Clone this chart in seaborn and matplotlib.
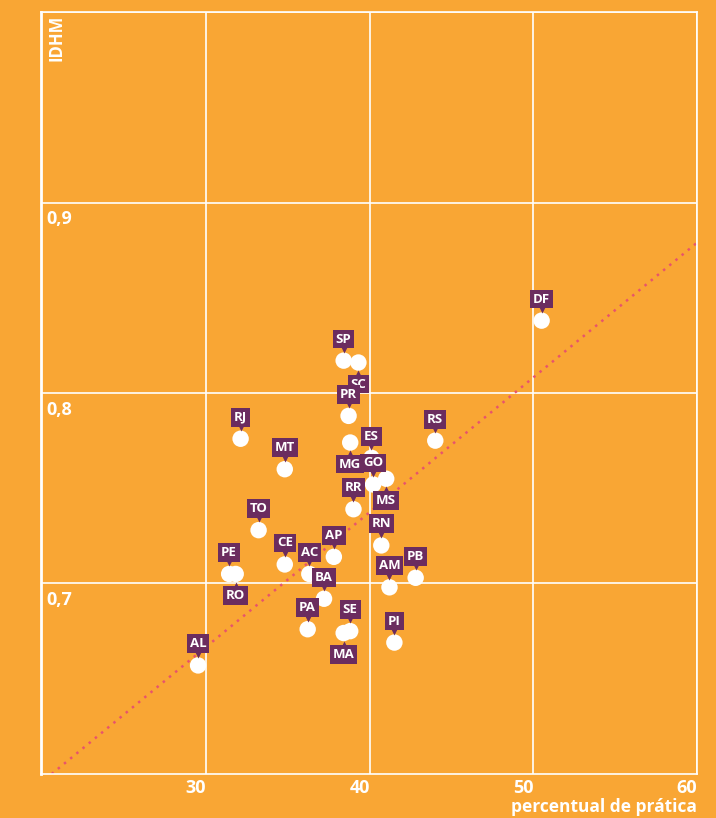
import matplotlib
matplotlib.use("Agg")
import matplotlib.pyplot as plt
import matplotlib.transforms as mtransforms
import pandas as pd
import seaborn as sns

# state, percentual de pratica, IDHM, label side
states = ["DF", "SP", "SC", "PR", "RJ", "MG", "ES", "RS", "MT", "GO", "MS", "RR", "TO",
          "RN", "AP", "CE", "PE", "RO", "AC", "PB", "AM", "BA", "PA", "SE", "MA", "PI", "AL"]
pct = [50.5, 38.4, 39.3, 38.7, 32.1, 38.8, 40.1, 44.0, 34.8, 40.2, 41.0, 39.0, 33.2,
       40.7, 37.8, 34.8, 31.4, 31.8, 36.3, 42.8, 41.2, 37.2, 36.2, 38.8, 38.4, 41.5, 29.5]
idhm = [0.838, 0.817, 0.816, 0.788, 0.776, 0.774, 0.766, 0.775, 0.760, 0.752, 0.755, 0.739, 0.728,
        0.720, 0.714, 0.710, 0.705, 0.705, 0.705, 0.703, 0.698, 0.692, 0.676, 0.675, 0.674, 0.669, 0.657]
side = ["up", "up", "down", "up", "up", "down", "up", "up", "up", "up", "down", "up", "up",
        "up", "up", "up", "up", "down", "up", "up", "up", "up", "up", "up", "down", "up", "up"]

x_ticks = [30, 40, 50, 60]
y_ticks = [0.7, 0.8, 0.9]
y_tick_labels = ["0,7", "0,8", "0,9"]

# tendency line
trend_slope = 0.00707
trend_intercept = 0.4547

BG = "#F9A634"
PURPLE = "#6B2C5F"
TREND = "#E8546B"

df = pd.DataFrame({"uf": states, "pct": pct, "idhm": idhm, "side": side})

sns.set_style("white")
plt.rcParams["font.family"] = ["Open Sans", "DejaVu Sans"]

fig = plt.figure(figsize=(7.16, 8.18), dpi=100, facecolor=BG)
ax = fig.add_axes([0.0573, 0.0538, 0.9162, 0.9315])
ax.set_facecolor(BG)

ax.set_xlim(19.9, 60)
ax.set_ylim(0.6, 1.0)
ax.set_xticks(x_ticks)
ax.set_yticks(y_ticks + [1.0])
ax.grid(True, color="white", lw=1.2)
ax.set_axisbelow(True)
for sp in ax.spines.values():
    sp.set_color("white")
    sp.set_linewidth(1.2)
ax.spines["left"].set_linewidth(2)
ax.tick_params(length=0, labelleft=False, labelbottom=False)

ax.axline((0, trend_intercept), slope=trend_slope, color=TREND, lw=1.8,
          linestyle=(0, (1, 2.2)), zorder=2)

sns.scatterplot(data=df, x="pct", y="idhm", color="white", s=140, edgecolor="none",
                ax=ax, zorder=3, legend=False)
ax.set_xlabel("")
ax.set_ylabel("")

# labels with small pointer
for _, r in df.iterrows():
    up = r["side"] == "up"
    sign = 1 if up else -1
    ax.annotate(r["uf"], (r["pct"], r["idhm"]), xytext=(0, sign * 15.5),
                textcoords="offset points", ha="center", va="center",
                color="white", fontsize=9.5, fontweight="bold", zorder=5,
                bbox=dict(boxstyle="square,pad=0.22", fc=PURPLE, ec="none"))
    tr = mtransforms.offset_copy(ax.transData, fig=fig, x=0, y=sign * 8.4, units="points")
    ax.plot(r["pct"], r["idhm"], marker="v" if up else "^", ms=5.5, color=PURPLE,
            mec="none", transform=tr, zorder=4)

# tick labels in the style of the reference
for v, lab in zip(y_ticks, y_tick_labels):
    ax.text(20.2, v - 0.004, lab, ha="left", va="top", color="white",
            fontsize=13, fontweight="bold")
for v in x_ticks:
    ax.text(v, 0.6 - 0.0025, str(v), ha="right", va="top", color="white",
            fontsize=13, fontweight="bold", clip_on=False)

ax.text(20.3, 0.9985, "IDHM", rotation=90, ha="left", va="top", color="white",
        fontsize=12, fontweight="bold")
ax.text(60, 0.6 - 0.0125, "percentual de prática", ha="right", va="top", color="white",
        fontsize=12.5, fontweight="bold", clip_on=False)

fig.savefig("out.png", dpi=100, facecolor=BG)
